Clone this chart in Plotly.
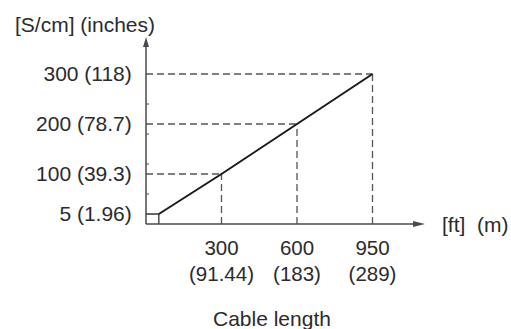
import plotly.graph_objects as go

# Cable length steps and the matching maximum rate (schematic chart)
length_ft = [300, 600, 950]
length_m = ["91.44", "183", "289"]
rate_scm = [100, 200, 300]
rate_in = ["39.3", "78.7", "118"]
start_rate = 5
start_rate_in = "1.96"

# Schematic scale: each length step and each 100 S/cm step gets one slot
RATE_STEP = 100
LOW_RATE_SLOT = 0.2      # the 5 S/cm floor is drawn as a small step
START_SLOT = 0.17        # where the ramp leaves the floor

X_PX, Y_PX = 75.5, 50.0  # pixels per slot
ORIGIN_PX = (146, 224)
W, H = 511, 329

xs = [i + 1 for i in range(len(length_ft))]
ys = [r / RATE_STEP for r in rate_scm]

x_range = [-ORIGIN_PX[0] / X_PX, (W - ORIGIN_PX[0]) / X_PX]
y_range = [-(H - ORIGIN_PX[1]) / Y_PX, ORIGIN_PX[1] / Y_PX]
x_tip = (425 - ORIGIN_PX[0]) / X_PX
y_tip = (ORIGIN_PX[1] - 37) / Y_PX

TEXT = "#2b2b2b"
AXIS = "#4a4a4a"
DASH = "#555555"
FONT = "Liberation Sans, Arial, sans-serif"

fig = go.Figure()

# floor step at 5 S/cm
fig.add_trace(go.Scatter(
    x=[0, START_SLOT, START_SLOT], y=[LOW_RATE_SLOT, LOW_RATE_SLOT, 0],
    mode="lines", line=dict(color="#333333", width=1.3),
    hoverinfo="skip", showlegend=False))

# rate vs cable length ramp
fig.add_trace(go.Scatter(
    x=[START_SLOT] + xs, y=[LOW_RATE_SLOT] + ys,
    mode="lines", line=dict(color="#1a1a1a", width=2),
    hoverinfo="skip", showlegend=False))

shapes = []
for x, y in zip(xs, ys):
    shapes.append(dict(type="line", x0=0, y0=y, x1=x, y1=y,
                       line=dict(color=DASH, width=1.3, dash="7px,4px"), layer="below"))
    shapes.append(dict(type="line", x0=x, y0=0, x1=x, y1=y,
                       line=dict(color=DASH, width=1.3, dash="7px,4px"), layer="below"))

# axis lines
shapes.append(dict(type="line", x0=0, y0=0, x1=x_tip - 0.1, y1=0,
                   line=dict(color=AXIS, width=1.5)))
shapes.append(dict(type="line", x0=0, y0=0, x1=0, y1=y_tip - 0.15,
                   line=dict(color=AXIS, width=1.5)))
# arrow heads
shapes.append(dict(type="path", xsizemode="pixel", ysizemode="pixel",
                   xanchor=0, yanchor=y_tip, path="M0,0 L-3,-10 L3,-10 Z",
                   fillcolor=AXIS, line=dict(width=0)))
shapes.append(dict(type="path", xsizemode="pixel", ysizemode="pixel",
                   xanchor=x_tip, yanchor=0, path="M0,0 L-12,3 L-12,-3 Z",
                   fillcolor=AXIS, line=dict(width=0)))
# small inner ticks on the vertical axis
for v in [0.6, 1.2, 1.8, 2.4]:
    shapes.append(dict(type="line", xsizemode="pixel", xanchor=0, x0=0, x1=3,
                       y0=v, y1=v, line=dict(color=AXIS, width=1)))

annotations = [
    dict(text="[S/cm] (inches)", x=13 / W, y=1 - 25 / H, xref="paper", yref="paper",
         xanchor="left", yanchor="middle", showarrow=False,
         font=dict(family=FONT, size=21, color=TEXT)),
    dict(text="[ft]\u00a0\u00a0(m)", x=440 / W, y=1 - 225 / H, xref="paper", yref="paper",
         xanchor="left", yanchor="middle", showarrow=False,
         font=dict(family=FONT, size=21, color=TEXT)),
    dict(text="Cable length", x=272 / W, y=1 - 318 / H, xref="paper", yref="paper",
         xanchor="center", yanchor="middle", showarrow=False,
         font=dict(family=FONT, size=21, color=TEXT)),
]

fig.update_layout(
    width=W, height=H, margin=dict(l=0, r=0, t=0, b=0),
    paper_bgcolor="white", plot_bgcolor="white",
    shapes=shapes, annotations=annotations,
    xaxis=dict(range=x_range, anchor="free", position=(H - ORIGIN_PX[1]) / H,
               showgrid=False, zeroline=False, showline=False,
               tickvals=xs, ticktext=[f"{f}<br>({m})" for f, m in zip(length_ft, length_m)],
               ticks="outside", ticklen=5, tickcolor="rgba(0,0,0,0)",
               tickfont=dict(family=FONT, size=20.5, color=TEXT)),
    yaxis=dict(range=y_range, anchor="free", position=ORIGIN_PX[0] / W,
               showgrid=False, zeroline=False, showline=False,
               tickvals=[LOW_RATE_SLOT] + ys,
               ticktext=[f"{start_rate} ({start_rate_in})"] + [f"{r} ({i})" for r, i in zip(rate_scm, rate_in)],
               ticks="outside", ticklen=10, tickcolor="rgba(0,0,0,0)",
               tickfont=dict(family=FONT, size=21, color=TEXT)),
)

fig.write_html("out.html")
